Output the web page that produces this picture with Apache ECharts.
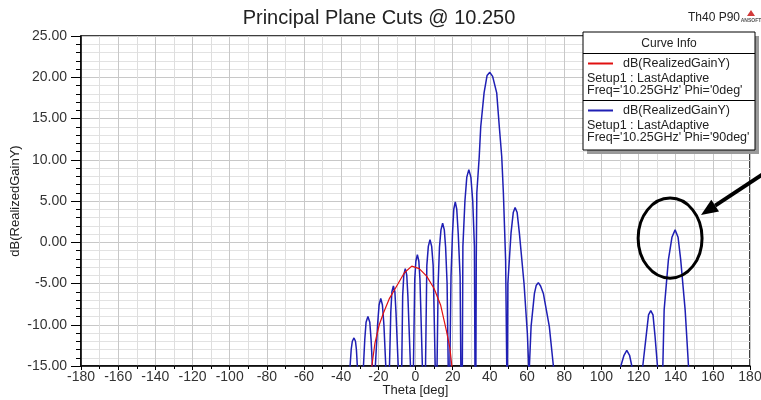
<!DOCTYPE html>
<html><head><meta charset="utf-8">
<script src="https://cdn.jsdelivr.net/npm/echarts@6/dist/echarts.min.js"></script>
<style>html,body{margin:0;padding:0;background:#fff}#c{width:761px;height:400px}</style>
</head><body><div id="c"></div>
<script>
// ---- data ----
const titleText = 'Principal Plane Cuts @ 10.250';
const cornerText = 'Th40 P90';
const xAxisName = 'Theta [deg]';
const yAxisName = 'dB(RealizedGainY)';
const xMin = -180, xMax = 180, xStep = 20;
const yMin = -15, yMax = 25, yStep = 5;

const seriesNames = ['dB(RealizedGainY)', 'dB(RealizedGainY)'];
const seriesSetup = ['Setup1 : LastAdaptive', 'Setup1 : LastAdaptive'];
const seriesFreq = ["Freq='10.25GHz' Phi='0deg'", "Freq='10.25GHz' Phi='90deg'"];

// Phi = 0deg (red)
const thetaRed = [-25.0,-23.5,-21.8,-19.5,-17.3,-14.0,-10.1,-6.0,-2.0,2.0,6.0,10.0,13.5,16.5,18.5,19.5,20.5];
const gainRed  = [-18,-15,-12.2,-10.0,-8.6,-6.8,-5.3,-3.7,-2.9,-3.2,-4.1,-5.6,-7.6,-10.6,-12.8,-14.9,-17];

// Phi = 90deg (blue)
const thetaBlue = [
 -35.6,-35.2,-34.6,-34.0,-33.1,-32.3,-31.8,-31.3,
 -29.7,
 -28.0,-27.3,-26.6,-25.6,-24.6,-23.9,-23.2,
 -22.5,
 -21.6,-20.4,-19.6,-18.7,-17.8,-17.0,-16.0,
 -15.1,
 -14.0,-13.3,-12.7,-11.9,-11.1,-10.5,-9.3,
 -8.4,
 -7.4,-6.9,-6.3,-5.5,-4.7,-4.1,-2.7,
 -1.9,
 -1.1,-0.4,0.2,1.0,1.8,2.4,3.7,
 4.5,
 5.4,6.1,6.9,7.8,8.7,9.5,10.6,
 11.1,
 11.6,12.2,12.9,13.7,14.6,15.5,16.2,17.0,17.6,
 18.0,
 18.5,19.1,19.9,20.6,21.4,22.2,23.0,24.0,24.4,
 24.7,
 25.2,25.5,26.6,27.6,28.7,29.8,30.8,31.7,32.0,
 32.2,
 32.5,32.7,33.0,34.3,35.1,36.9,38.5,40.0,41.5,43.7,45.1,46.4,47.3,48.5,49.1,
 49.3,
 49.5,49.7,51.4,52.6,53.6,54.7,55.9,58.4,60.2,60.9,
 61.1,
 61.3,62.2,64.0,65.0,66.1,67.3,68.8,72.0,74.2,
 75.0,110.0,
 110.5,112.2,113.7,115.2,116.4,
 117.5,121.8,
 122.3,124.1,125.4,126.6,127.8,128.9,130.2,
 131.6,
 133.1,133.8,136.1,138.0,139.7,141.3,142.7,145.1,146.9,
 147.5
];
const gainBlue = [
 -30,-15,-13.0,-12.0,-11.6,-12.0,-13.0,-15,
 -35,
 -15,-11.8,-9.7,-9.0,-9.7,-11.8,-15,
 -35,
 -15,-10.0,-7.6,-6.8,-7.6,-10.0,-15,
 -35,
 -15,-8.5,-6.0,-5.3,-6.0,-8.5,-15,
 -35,
 -15,-6.5,-4.0,-3.2,-4.0,-6.5,-15,
 -35,
 -15,-4.5,-2.3,-1.5,-2.3,-4.5,-15,
 -35,
 -15,-2.8,-0.5,0.3,-0.5,-2.8,-15,
 -40,
 -15,-5.0,-0.6,1.5,2.3,1.5,-0.6,-5.0,-15,
 -40,
 -15,-4.2,1.0,4.0,4.9,4.0,1.0,-4.2,-15,
 -40,
 -15,-0.5,5.0,7.9,8.8,7.9,5.0,-0.5,-15,
 -40,
 -15,-2.0,6.0,10.4,14.0,18.1,20.2,20.6,20.1,18.1,14.0,10.4,5.9,-2.2,-15,
 -40,
 -15,-5.0,1.1,3.6,4.2,3.6,1.1,-5.0,-11.1,-15,
 -40,
 -15,-10.2,-6.2,-5.2,-4.9,-5.3,-6.2,-10.2,-15,
 -40,-40,
 -15,-13.7,-13.1,-13.7,-15,
 -40,-40,
 -15,-11.4,-8.8,-8.3,-8.8,-11.4,-15,
 -40,
 -15,-8.2,-2.1,0.6,1.5,0.6,-2.1,-8.2,-15,
 -40
];

// annotation: circled lobe (centre in data units, radii in data units)
const markCenter = [137.0, 0.5];
const markRadius = [17.2, 4.85];

// ---- chart ----
const FONT = "'Liberation Sans', Arial, sans-serif";
const zip = (a, b) => a.map((v, i) => [v, b[i]]);
const chart = echarts.init(document.getElementById('c'), null, {renderer: 'canvas'});

const option = {
  backgroundColor: '#ffffff',
  animation: false,
  grid: {left: 81, right: 11, top: 36, bottom: 34, show: true, containLabel: false,
         outerBoundsMode: 'none',
         borderColor: '#000', borderWidth: 1.5, backgroundColor: '#fff'},
  xAxis: {
    type: 'value', min: xMin, max: xMax, interval: xStep,
    name: xAxisName, nameLocation: 'middle', nameGap: 18, nameMoveOverlap: false,
    nameTextStyle: {color: '#222', fontSize: 13, fontFamily: FONT},
    axisLine: {show: true, onZero: false, lineStyle: {color: '#000', width: 1.5}},
    axisTick: {show: true, length: 4, lineStyle: {color: '#000'}},
    minorTick: {show: true, splitNumber: 2, length: 3, lineStyle: {color: '#000'}},
    axisLabel: {color: '#333', fontSize: 14, fontFamily: FONT, margin: 4},
    splitLine: {show: true, lineStyle: {color: '#c8c8c8', width: 1}},
    minorSplitLine: {show: true, lineStyle: {color: '#dedede', width: 1}}
  },
  yAxis: {
    type: 'value', min: yMin, max: yMax, interval: yStep,
    name: yAxisName, nameLocation: 'middle', nameGap: 59, nameRotate: 90, nameMoveOverlap: false,
    nameTextStyle: {color: '#222', fontSize: 13, fontFamily: FONT},
    axisLine: {show: true, onZero: false, lineStyle: {color: '#000', width: 1.5}},
    axisTick: {show: true, length: 10, lineStyle: {color: '#000'}},
    minorTick: {show: true, splitNumber: 5, length: 5, lineStyle: {color: '#000'}},
    axisLabel: {color: '#333', fontSize: 14, fontFamily: FONT, margin: 14,
                formatter: v => v.toFixed(2)},
    splitLine: {show: true, lineStyle: {color: '#c8c8c8', width: 1}},
    minorSplitLine: {show: true, lineStyle: {color: '#e2e2e2', width: 1}}
  },
  series: [
    {name: seriesFreq[1], type: 'line', data: zip(thetaBlue, gainBlue), showSymbol: false,
     clip: true, z: 2, lineStyle: {color: '#1f1fb4', width: 1.5}},
    {name: seriesFreq[0], type: 'line', data: zip(thetaRed, gainRed), showSymbol: false,
     clip: true, z: 3, lineStyle: {color: '#e01010', width: 1.2}}
  ]
};
chart.setOption(option);

// annotation + legend box + titles
const c0 = chart.convertToPixel({gridIndex: 0}, markCenter);
const cx = chart.convertToPixel({gridIndex: 0}, [markCenter[0] + markRadius[0], markCenter[1] + markRadius[1]]);
const rx = cx[0] - c0[0], ry = c0[1] - cx[1];

const tip = [701, 215], tail = [772, 168];
const dx = tail[0] - tip[0], dy = tail[1] - tip[1], len = Math.hypot(dx, dy);
const ux = dx / len, uy = dy / len, hl = 17, hw = 7;
const bxc = tip[0] + ux * hl, byc = tip[1] + uy * hl;

function txt(x, y, s, size, align, z) {
  return {type: 'text', x: x, y: y, z: z || 12,
    style: {text: s, fill: '#222', font: size + 'px ' + FONT, textAlign: align || 'left', textVerticalAlign: 'middle'}};
}

const legX = 583, legY = 32, legW = 172, legH = 118;
const graphics = [
  txt(379, 18, titleText, 20, 'center', 5),
  txt(688, 18, cornerText, 12, 'left', 5),
  {type: 'polygon', shape: {points: [[751, 10], [747, 16], [755, 16]]}, style: {fill: '#d23a3a'}},
  {type: 'text', x: 751, y: 21, style: {text: 'ANSOFT', fill: '#555', font: 'bold 5px ' + FONT, textAlign: 'center', textVerticalAlign: 'middle'}},
  // shadow + box
  {type: 'rect', shape: {x: legX + 4, y: legY + 4, width: legW, height: legH}, style: {fill: '#9a9a9a'}, z: 10},
  {type: 'rect', shape: {x: legX, y: legY, width: legW, height: legH}, style: {fill: '#fff', stroke: '#000', lineWidth: 1}, z: 11},
  {type: 'line', shape: {x1: legX, y1: 53.5, x2: legX + legW, y2: 53.5}, style: {stroke: '#000', lineWidth: 1}, z: 12},
  {type: 'line', shape: {x1: legX, y1: 100.5, x2: legX + legW, y2: 100.5}, style: {stroke: '#000', lineWidth: 1}, z: 12},
  txt(legX + legW / 2, 43.5, 'Curve Info', 12, 'center'),
  {type: 'line', shape: {x1: 588, y1: 63.5, x2: 613, y2: 63.5}, style: {stroke: '#e01010', lineWidth: 2}, z: 12},
  txt(623, 63.5, seriesNames[0], 12.5),
  txt(587, 78.5, seriesSetup[0], 12.5),
  txt(587, 90.5, seriesFreq[0], 12.5),
  {type: 'line', shape: {x1: 588, y1: 110.5, x2: 613, y2: 110.5}, style: {stroke: '#1f1fb4', lineWidth: 2}, z: 12},
  txt(623, 110.5, seriesNames[1], 12.5),
  txt(587, 125.5, seriesSetup[1], 12.5),
  txt(587, 137.5, seriesFreq[1], 12.5),
  // circled lobe
  {type: 'ellipse', shape: {cx: c0[0], cy: c0[1], rx: rx, ry: ry}, style: {fill: 'none', stroke: '#000', lineWidth: 3}, z: 20},
  // arrow
  {type: 'line', shape: {x1: tail[0], y1: tail[1], x2: bxc, y2: byc}, style: {stroke: '#000', lineWidth: 4}, z: 20},
  {type: 'polygon', shape: {points: [tip, [bxc - uy * hw, byc + ux * hw], [bxc + uy * hw, byc - ux * hw]]}, style: {fill: '#000'}, z: 20}
];
chart.setOption({graphic: graphics});
</script>
</body></html>
